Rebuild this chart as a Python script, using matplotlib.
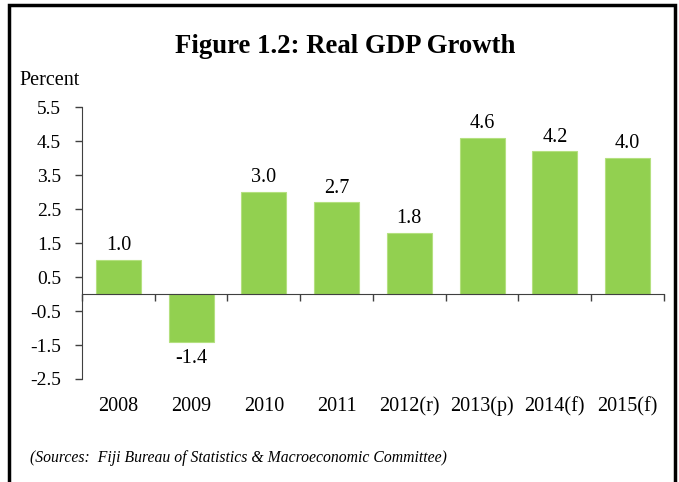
"""
Real GDP growth bar chart
"""
import numpy as np
import matplotlib.pyplot as plt
from matplotlib.patches import Rectangle
from matplotlib.transforms import blended_transform_factory

years = ['2008', '2009', '2010', '2011', '2012(r)', '2013(p)', '2014(f)', '2015(f)']
growth = [1.0, -1.4, 3.0, 2.7, 1.8, 4.6, 4.2, 4.0]
yticks = [5.5, 4.5, 3.5, 2.5, 1.5, 0.5, -0.5, -1.5, -2.5]

plt.rcParams['font.family'] = ['Liberation Serif', 'DejaVu Serif']

fig = plt.figure(figsize=(6.79, 4.82), dpi=100)
ax = fig.add_axes([0.1208, 0.2137, 0.857, 0.564])

x = np.arange(len(years))
bars = ax.bar(x, growth, width=0.62, color='#92D050', edgecolor='#B4E07F', linewidth=0.8)

ax.set_xlim(-0.5, len(years) - 0.5)
ax.set_ylim(-2.5, 5.5)
ax.set_yticks(yticks)
ax.set_yticklabels([f'{v:.1f}' for v in yticks], fontsize=14)
ax.tick_params(axis='y', length=5, width=1, direction='out', pad=10, color='#404040')

# category boundaries as ticks hanging off the zero line
ax.spines['top'].set_visible(False)
ax.spines['right'].set_visible(False)
ax.spines['bottom'].set_position(('data', 0))
ax.spines['left'].set_color('#404040')
ax.spines['bottom'].set_color('#404040')
ax.set_xticks(x)
ax.set_xticklabels([])
ax.tick_params(axis='x', which='major', length=0)
ax.set_xticks(np.arange(len(years) + 1) - 0.5, minor=True)
ax.tick_params(axis='x', which='minor', length=5, width=1, direction='out', color='#404040')

trans = blended_transform_factory(ax.transData, ax.transAxes)
for xi, lab in zip(x, years):
    ax.text(xi, -0.118, lab, transform=trans, ha='center', va='baseline', fontsize=14.5)

for xi, v in zip(x, growth):
    if v >= 0:
        ax.annotate(f'{v:.1f}', (xi, v), xytext=(0, 7), textcoords='offset points',
                    ha='center', va='baseline', fontsize=14.5)
    else:
        ax.annotate(f'{v:.1f}', (xi, v), xytext=(0, -5), textcoords='offset points',
                    ha='center', va='top', fontsize=14.5)

fig.text(0.508, 0.903, 'Figure 1.2: Real GDP Growth', ha='center', va='center',
         fontsize=19.3, fontweight='bold')
fig.text(0.029, 0.834, 'Percent', ha='left', va='center', fontsize=14.5)
fig.text(0.044, 0.05, '(Sources:  Fiji Bureau of Statistics & Macroeconomic Committee)',
         ha='left', va='center', fontsize=11.3, style='italic')

fig.patches.append(Rectangle((9 / 679, -0.05), 666 / 679, 1.05 - 4.5 / 482,
                             transform=fig.transFigure, fill=False,
                             edgecolor='black', linewidth=2.5))

fig.savefig('out.png', dpi=100)
